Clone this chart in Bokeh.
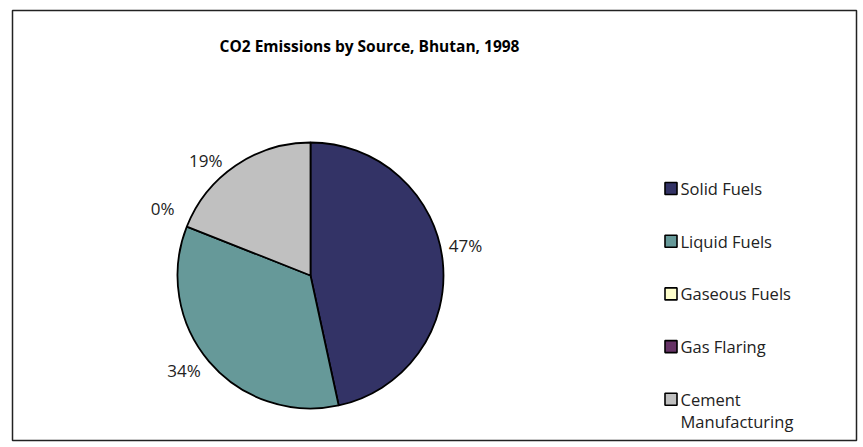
import math
from bokeh.plotting import figure
from bokeh.models import Range1d, ColumnDataSource
from bokeh.core.properties import value
from bokeh.embed import file_html
from bokeh.resources import INLINE

# ---- data ----
title_text = "CO2 Emissions by Source, Bhutan, 1998"
categories = ["Solid Fuels", "Liquid Fuels", "Gaseous Fuels", "Gas Flaring", "Cement\nManufacturing"]
emissions = [46.6, 34.4, 0, 0, 19.0]  # percent shares
colors = ["#333366", "#669999", "#FFFFCC", "#663366", "#C0C0C0"]

# ---- layout (pixels, page coords) ----
W, H = 860, 444
bl, bt, br, bb = 12, 10, 4, 4          # box: x 12..856, y 10..440
FW, FH = W - bl - br, H - bt - bb      # 1 data unit = 1 px

def px(xp):
    return xp - bl

def py(yp):
    return FH - (yp - bt)

cx, cy, R = px(310), py(275), 133
label_r = R + 25
label_nudge = [(-2, -13), (-6, -7), (-1, -9), (-1, -9), (-16, 16)]  # style tweaks (px)
font = "Open Sans"

p = figure(width=W, height=H, output_backend="svg", toolbar_location=None,
           x_range=Range1d(0, FW), y_range=Range1d(0, FH),
           x_axis_location=None, y_axis_location=None,
           min_border_left=bl, min_border_top=bt,
           min_border_right=br, min_border_bottom=bb)
p.grid.visible = False
p.outline_line_color = "#222222"
p.outline_line_width = 1.5
p.background_fill_color = "white"
p.border_fill_color = "white"

total = float(sum(emissions))
starts, ends, mids, pcts = [], [], [], []
acc = 0.0
for v in emissions:
    t1 = acc / total * 2 * math.pi
    acc += v
    t2 = acc / total * 2 * math.pi
    starts.append(t1)
    ends.append(t2)
    mids.append((t1 + t2) / 2)
    pcts.append(f"{round(v / total * 100):.0f}%")

nz = [i for i, v in enumerate(emissions) if v > 0]
wsrc = ColumnDataSource(dict(
    start=[math.pi / 2 - ends[i] for i in nz],
    end=[math.pi / 2 - starts[i] for i in nz],
    color=[colors[i] for i in nz],
))
p.wedge(x=cx, y=cy, radius=R, start_angle="start", end_angle="end",
        direction="anticlock", fill_color="color", line_color="black",
        line_width=1.8, source=wsrc)

# data labels (zero slices share one spot; draw it once)
lx, ly, lt = [], [], []
seen_zero = False
for i, v in enumerate(emissions):
    if v == 0:
        if seen_zero:
            continue
        seen_zero = True
    lx.append(cx + label_r * math.sin(mids[i]) + label_nudge[i][0])
    ly.append(cy + label_r * math.cos(mids[i]) - label_nudge[i][1])
    lt.append(pcts[i])
p.text(x=lx, y=ly, text=lt, text_font=value(font), text_font_size="17px",
       text_color="#222222", text_align="center", text_baseline="middle")

# title
p.text(x=[px(369)], y=[py(45)], text=[title_text], text_font=value(font),
       text_font_size="15.5px", text_font_style="bold", text_color="black",
       text_align="center", text_baseline="middle")

# legend
leg_x, leg_y0, leg_dy, sq, line_dy = px(670.5), py(188), 52.7, 12, 22
rows_y = [leg_y0 - k * leg_dy for k in range(len(categories))]
p.rect(x=[leg_x] * len(categories), y=rows_y, width=sq, height=sq,
       fill_color=colors, line_color="black", line_width=1.6)
tx, ty, tt = [], [], []
for k, name in enumerate(categories):
    for j, part in enumerate(name.split("\n")):
        tx.append(leg_x + 9.5)
        ty.append(rows_y[k] - j * line_dy)
        tt.append(part)
p.text(x=tx, y=ty, text=tt, text_font=value(font), text_font_size="16.5px",
       text_color="#222222", text_align="left", text_baseline="middle")

open("out.html", "w").write(file_html(p, INLINE))
